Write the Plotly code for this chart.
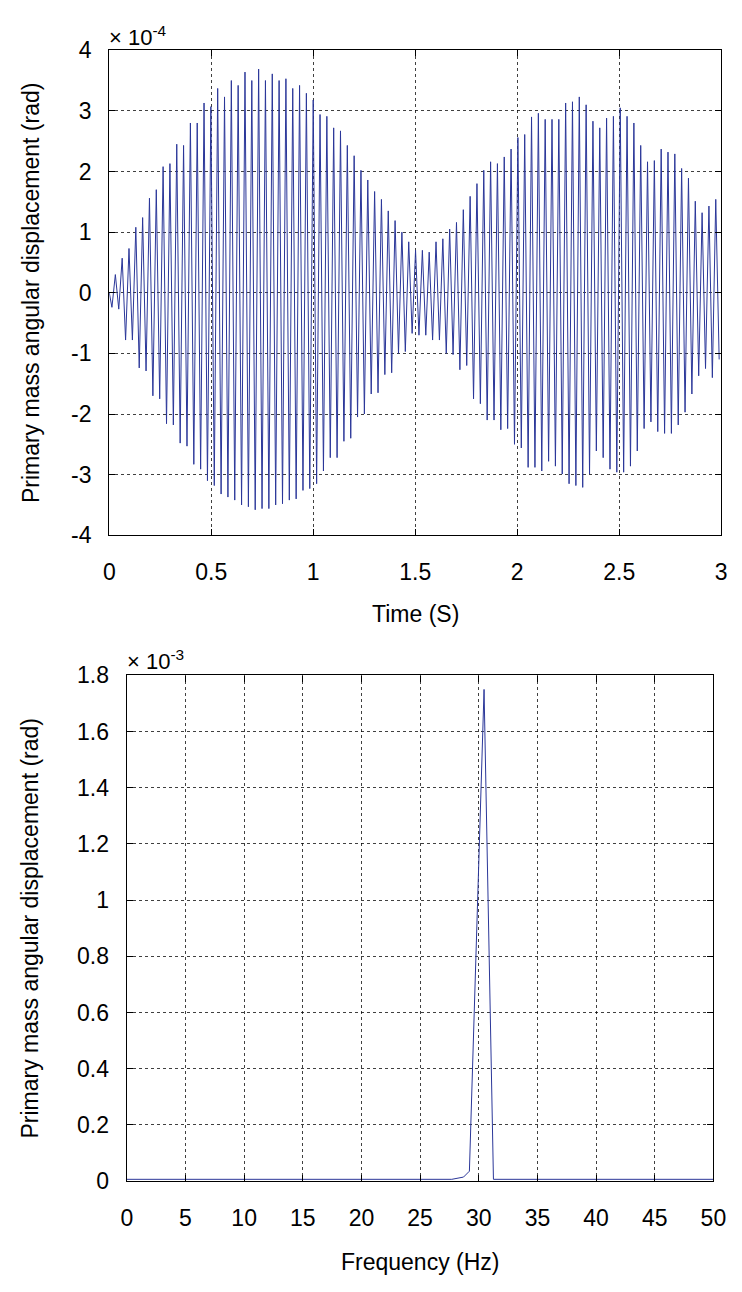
import numpy as np
import plotly.graph_objects as go

# ---------------- data ----------------
# Top panel: time signal, peak values per half cycle, units of 1e-4 rad
pos_peaks = [0.30, 0.57, 0.73, 1.08, 1.24, 1.56, 1.70, 2.08, 2.13, 2.45,
             2.43, 2.80, 2.80, 3.13, 3.07, 3.37, 3.23, 3.50, 3.42, 3.64,
             3.50, 3.69, 3.50, 3.61, 3.50, 3.53, 3.37, 3.42, 3.29, 3.18,
             2.94, 2.91, 2.72, 2.67, 2.43, 2.26, 2.02, 1.86, 1.67, 1.54,
             1.35, 1.19, 1.00, 0.84, 0.70, 0.70, 0.67, 0.84, 0.89, 1.05,
             1.16, 1.37, 1.59, 1.80, 2.02, 2.16, 2.13, 2.24, 2.37, 2.56, 2.61,
             2.90, 2.96, 2.86, 2.86, 2.86, 3.13, 3.15, 3.23, 3.10, 2.83,
             2.72, 2.88, 2.91, 3.05, 2.91, 2.80, 2.43, 2.16, 2.18, 2.37,
             2.32, 2.29, 2.05, 1.89, 1.51, 1.32, 1.43, 1.54]
neg_peaks = [-0.24, -0.27, -0.78, -0.78, -1.24, -1.29, -1.70, -1.75, -2.16, -2.18,
             -2.48, -2.53, -2.83, -2.91, -3.10, -3.18, -3.32, -3.37, -3.42, -3.50,
             -3.53, -3.58, -3.56, -3.56, -3.50, -3.48, -3.42, -3.40, -3.26, -3.23, -3.15,
             -2.94, -2.72, -2.72, -2.45, -2.40, -2.05, -2.00, -1.67, -1.65, -1.35,
             -1.32, -1.00, -0.97, -0.67, -0.70, -0.70, -0.78, -0.78, -1.00, -1.02,
             -1.27, -1.20, -1.75, -1.83, -2.10, -2.10, -2.26, -2.24, -2.50, -2.56,
             -2.88, -2.88, -2.94, -2.78, -2.86, -2.99, -3.15, -3.18, -3.21, -2.99,
             -2.61, -2.72, -2.91, -2.96, -2.96, -2.86, -2.61, -2.24, -2.13, -2.29,
             -2.32, -2.32, -2.18, -1.97, -1.67, -1.37, -1.25, -1.40, -1.10]
t_first_neg = 0.013   # s, time of first negative peak
t_last_neg = 2.99     # s, time of last negative peak

# Bottom panel: spectrum, units of 1e-3 rad
freq_hz = [0.0, 27.7, 28.7, 29.2, 30.45, 31.25, 50.0]
spec_amp = [0.006, 0.006, 0.014, 0.035, 1.75, 0.006, 0.006]

# tick labels
y1_ticks = [4, 3, 2, 1, 0, -1, -2, -3, -4]
y1_text = ["4", "3", "2", "1", "0", "-1", "-2", "-3", "-4"]
x1_ticks = [0, 0.5, 1, 1.5, 2, 2.5, 3]
x1_text = ["0", "0.5", "1", "1.5", "2", "2.5", "3"]
x2_ticks = list(range(0, 55, 5))
y2_ticks = [0, 0.2, 0.4, 0.6, 0.8, 1.0, 1.2, 1.4, 1.6, 1.8]
y2_text = ["0", "0.2", "0.4", "0.6", "0.8", "1", "1.2", "1.4", "1.6", "1.8"]

# ---------------- build the time series ----------------
n_neg = len(neg_peaks)
t_neg = np.linspace(t_first_neg, t_last_neg, n_neg)
half = (t_neg[1] - t_neg[0]) / 2.0
t_pos = t_neg[:len(pos_peaks)] + half
pts = [(0.0, 0.0)] + list(zip(t_neg, neg_peaks)) + list(zip(t_pos, pos_peaks))
pts.sort(key=lambda p: p[0])
t_sig = [p[0] for p in pts]
y_sig = [p[1] for p in pts]

W, H = 742, 1292
BLUE = "#2b3799"
FONT = "Liberation Sans, Arial, Helvetica, sans-serif"
FS = 23

def px(x):
    return x / W

def py(y):
    return 1 - y / H

fig = go.Figure()
fig.add_trace(go.Scatter(x=t_sig, y=y_sig, mode="lines",
                         line=dict(color=BLUE, width=1), xaxis="x", yaxis="y",
                         showlegend=False, hoverinfo="skip"))
fig.add_trace(go.Scatter(x=freq_hz, y=spec_amp, mode="lines",
                         line=dict(color=BLUE, width=1), xaxis="x2", yaxis="y2",
                         showlegend=False, hoverinfo="skip"))

common = dict(showline=True, linecolor="black", linewidth=1.3, mirror="ticks",
              ticks="inside", ticklen=6, tickcolor="black", tickwidth=1,
              showgrid=True, gridcolor="rgba(0,0,0,0.75)", gridwidth=1,
              griddash="3px,3px", zeroline=False,
              tickfont=dict(family=FONT, size=FS, color="black"))

# panel pixel boxes
L1, R1, T1, B1 = 106, 734, 38, 533
L2, R2, T2, B2 = 124, 726, 676, 1192

fig.update_layout(
    width=W, height=H, margin=dict(l=0, r=0, t=0, b=0),
    paper_bgcolor="white", plot_bgcolor="white", showlegend=False,
    xaxis=dict(domain=[px(L1), px(R1)], range=[0, 3], tickvals=x1_ticks,
               ticktext=x1_text, anchor="y", ticklabelstandoff=16, **common),
    yaxis=dict(domain=[py(B1), py(T1)], range=[-4, 4], tickvals=y1_ticks,
               ticktext=y1_text, anchor="x", ticklabelstandoff=12, **common),
    xaxis2=dict(domain=[px(L2), px(R2)], range=[0, 50], tickvals=x2_ticks,
                anchor="y2", ticklabelstandoff=16, **common),
    yaxis2=dict(domain=[py(B2), py(T2)], range=[0, 1.8], tickvals=y2_ticks,
                ticktext=y2_text, anchor="x2", ticklabelstandoff=12, **common),
)

ann_font = dict(family=FONT, size=FS, color="black")
ylabel = "Primary mass angular displacement (rad)"
fig.add_annotation(x=px(25), y=py((T1 + B1) / 2), xref="paper", yref="paper",
                   text=ylabel, textangle=-90, showarrow=False, font=ann_font,
                   xanchor="center", yanchor="middle")
fig.add_annotation(x=px(25), y=py((T2 + B2) / 2), xref="paper", yref="paper",
                   text=ylabel, textangle=-90, showarrow=False, font=ann_font,
                   xanchor="center", yanchor="middle")
fig.add_annotation(x=px((L1 + R1) / 2), y=py(613), xref="paper", yref="paper",
                   text="Time (S)", showarrow=False, font=ann_font,
                   xanchor="center", yanchor="middle")
fig.add_annotation(x=px((L2 + R2) / 2), y=py(1275), xref="paper", yref="paper",
                   text="Frequency (Hz)", showarrow=False, font=ann_font,
                   xanchor="center", yanchor="middle")
fig.add_annotation(x=px(104), y=py(23), xref="paper", yref="paper",
                   text="\u00d7 10<sup>-4</sup>", showarrow=False,
                   font=dict(family=FONT, size=22, color="black"),
                   xanchor="left", yanchor="middle")
fig.add_annotation(x=px(122), y=py(660), xref="paper", yref="paper",
                   text="\u00d7 10<sup>-3</sup>", showarrow=False,
                   font=dict(family=FONT, size=22, color="black"),
                   xanchor="left", yanchor="middle")

fig.write_html("out.html")
